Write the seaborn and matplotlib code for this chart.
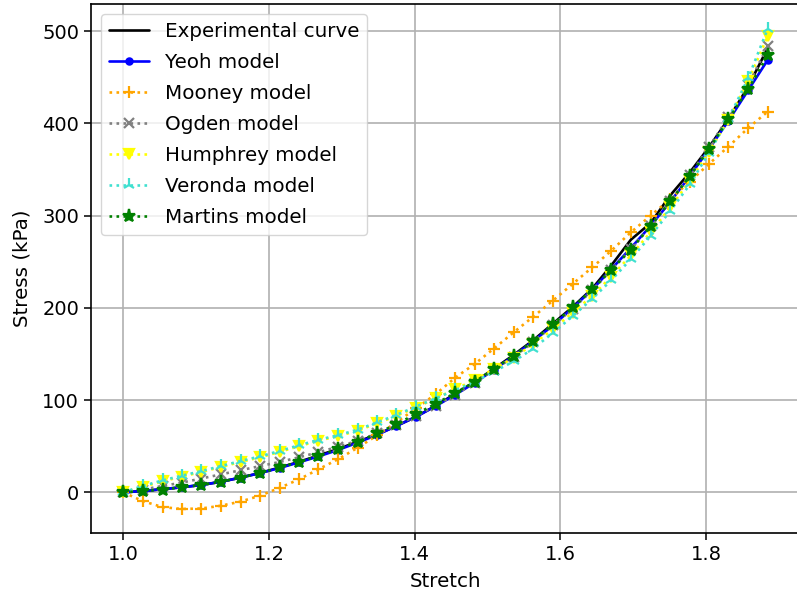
import matplotlib
matplotlib.use("Agg")
import matplotlib.pyplot as plt
import seaborn as sns

# Stretch values shared by all curves
stretch = [1.000, 1.027, 1.054, 1.080, 1.107, 1.134, 1.161, 1.188, 1.215, 1.241,
           1.268, 1.295, 1.322, 1.349, 1.375, 1.402, 1.429, 1.456, 1.483, 1.509,
           1.536, 1.563, 1.590, 1.617, 1.644, 1.670, 1.697, 1.724, 1.751, 1.778,
           1.804, 1.831, 1.858, 1.885]

# Stress (kPa)
experimental = [0, 1.5, 3.5, 5.5, 8, 11.5, 16, 21, 27, 33, 40, 47, 55, 63, 72, 82,
                94, 107, 120, 134, 149, 165, 183, 201, 221, 246, 274, 292, 322, 347,
                374, 405, 440, 482]
yeoh = [0, 1.5, 3.5, 5.5, 8, 11.5, 16, 21, 26.5, 32.5, 39, 46, 54, 62.5, 72, 82,
        93.5, 106, 119, 133, 148, 164, 181, 200, 220, 242, 265, 289, 315, 343,
        372, 403, 436, 469]
mooney = [0, -9.5, -16, -18, -17.5, -14.5, -10, -3.5, 5, 14, 25, 36, 48.5, 62, 76,
          91, 106.5, 124.5, 139.5, 156, 173.5, 190.5, 208, 226, 244, 262, 282, 300,
          318, 337, 356, 375, 395, 413]
ogden = [0, 3, 7, 10.5, 15, 19.5, 24, 28.5, 33, 38, 43.5, 49.5, 56, 64, 73, 83, 94,
         106, 119, 133, 147, 163, 181, 199, 219, 241, 264, 289, 316, 344, 374, 407,
         442, 484]
humphrey = [0, 6, 12, 17, 22, 27.5, 33, 38, 44, 50, 56, 61, 67, 75, 83, 92, 102, 112,
            122, 134, 146, 161, 177, 195, 213, 234, 257, 282, 309, 338, 369, 404,
            446, 495]
veronda = [0, 7, 13, 18, 23, 28.5, 34, 39, 45, 51, 57, 62, 68, 76, 84, 93, 102, 111,
           120, 131, 142, 156, 173, 191, 210, 230, 253, 278, 305, 334, 368, 405,
           449, 503]
martins = [0, 1.5, 3, 5.5, 8, 11.5, 16, 21, 27, 33, 39.5, 47, 55, 64, 74, 85, 96,
           108, 120, 134, 148, 164.5, 182.5, 200.5, 220, 241.5, 263, 289, 315.5, 343,
           372, 404.5, 437, 474]

sns.set_theme(style="ticks", rc={
    "axes.edgecolor": "black",
    "axes.labelcolor": "black",
    "text.color": "black",
    "axes.linewidth": 1.2,
    "xtick.color": "black",
    "ytick.color": "black",
    "xtick.major.size": 5,
    "ytick.major.size": 5,
    "xtick.major.width": 1.1,
    "ytick.major.width": 1.1,
    "grid.color": "#b0b0b0",
    "grid.linewidth": 1.2,
})
plt.rcParams["font.family"] = ["DejaVu Sans"]

fig = plt.figure(figsize=(7.97, 5.98), dpi=100)
ax = fig.add_axes([0.1142, 0.1087, 0.8896, 0.8838])

lw = 1.9
sns.lineplot(x=stretch, y=experimental, ax=ax, color="black", linewidth=lw,
             label="Experimental curve")

series = [
    (yeoh, "Yeoh model", "blue", "o", "-", 4.5),
    (mooney, "Mooney model", "orange", "+", ":", 8.5),
    (ogden, "Ogden model", "grey", "x", ":", 7.5),
    (humphrey, "Humphrey model", "yellow", "v", ":", 7.5),
    (veronda, "Veronda model", "turquoise", "2", ":", 9.5),
    (martins, "Martins model", "green", "*", ":", 9.5),
]
for values, name, color, mk, ls, ms in series:
    sns.lineplot(x=stretch, y=values, ax=ax, color=color, linewidth=lw,
                 linestyle=ls, marker=mk, markersize=ms,
                 markeredgecolor=color, markerfacecolor=color,
                 markeredgewidth=1.6, label=name)

ax.grid(True)
ax.set_xlabel("Stretch", fontsize=14.3, labelpad=6)
ax.set_ylabel("Stress (kPa)", fontsize=14.3, labelpad=8)
ax.tick_params(labelsize=14)
ax.legend(loc="upper left", fontsize=14.3, frameon=True, labelspacing=0.6)

fig.savefig("out.png", dpi=100)
